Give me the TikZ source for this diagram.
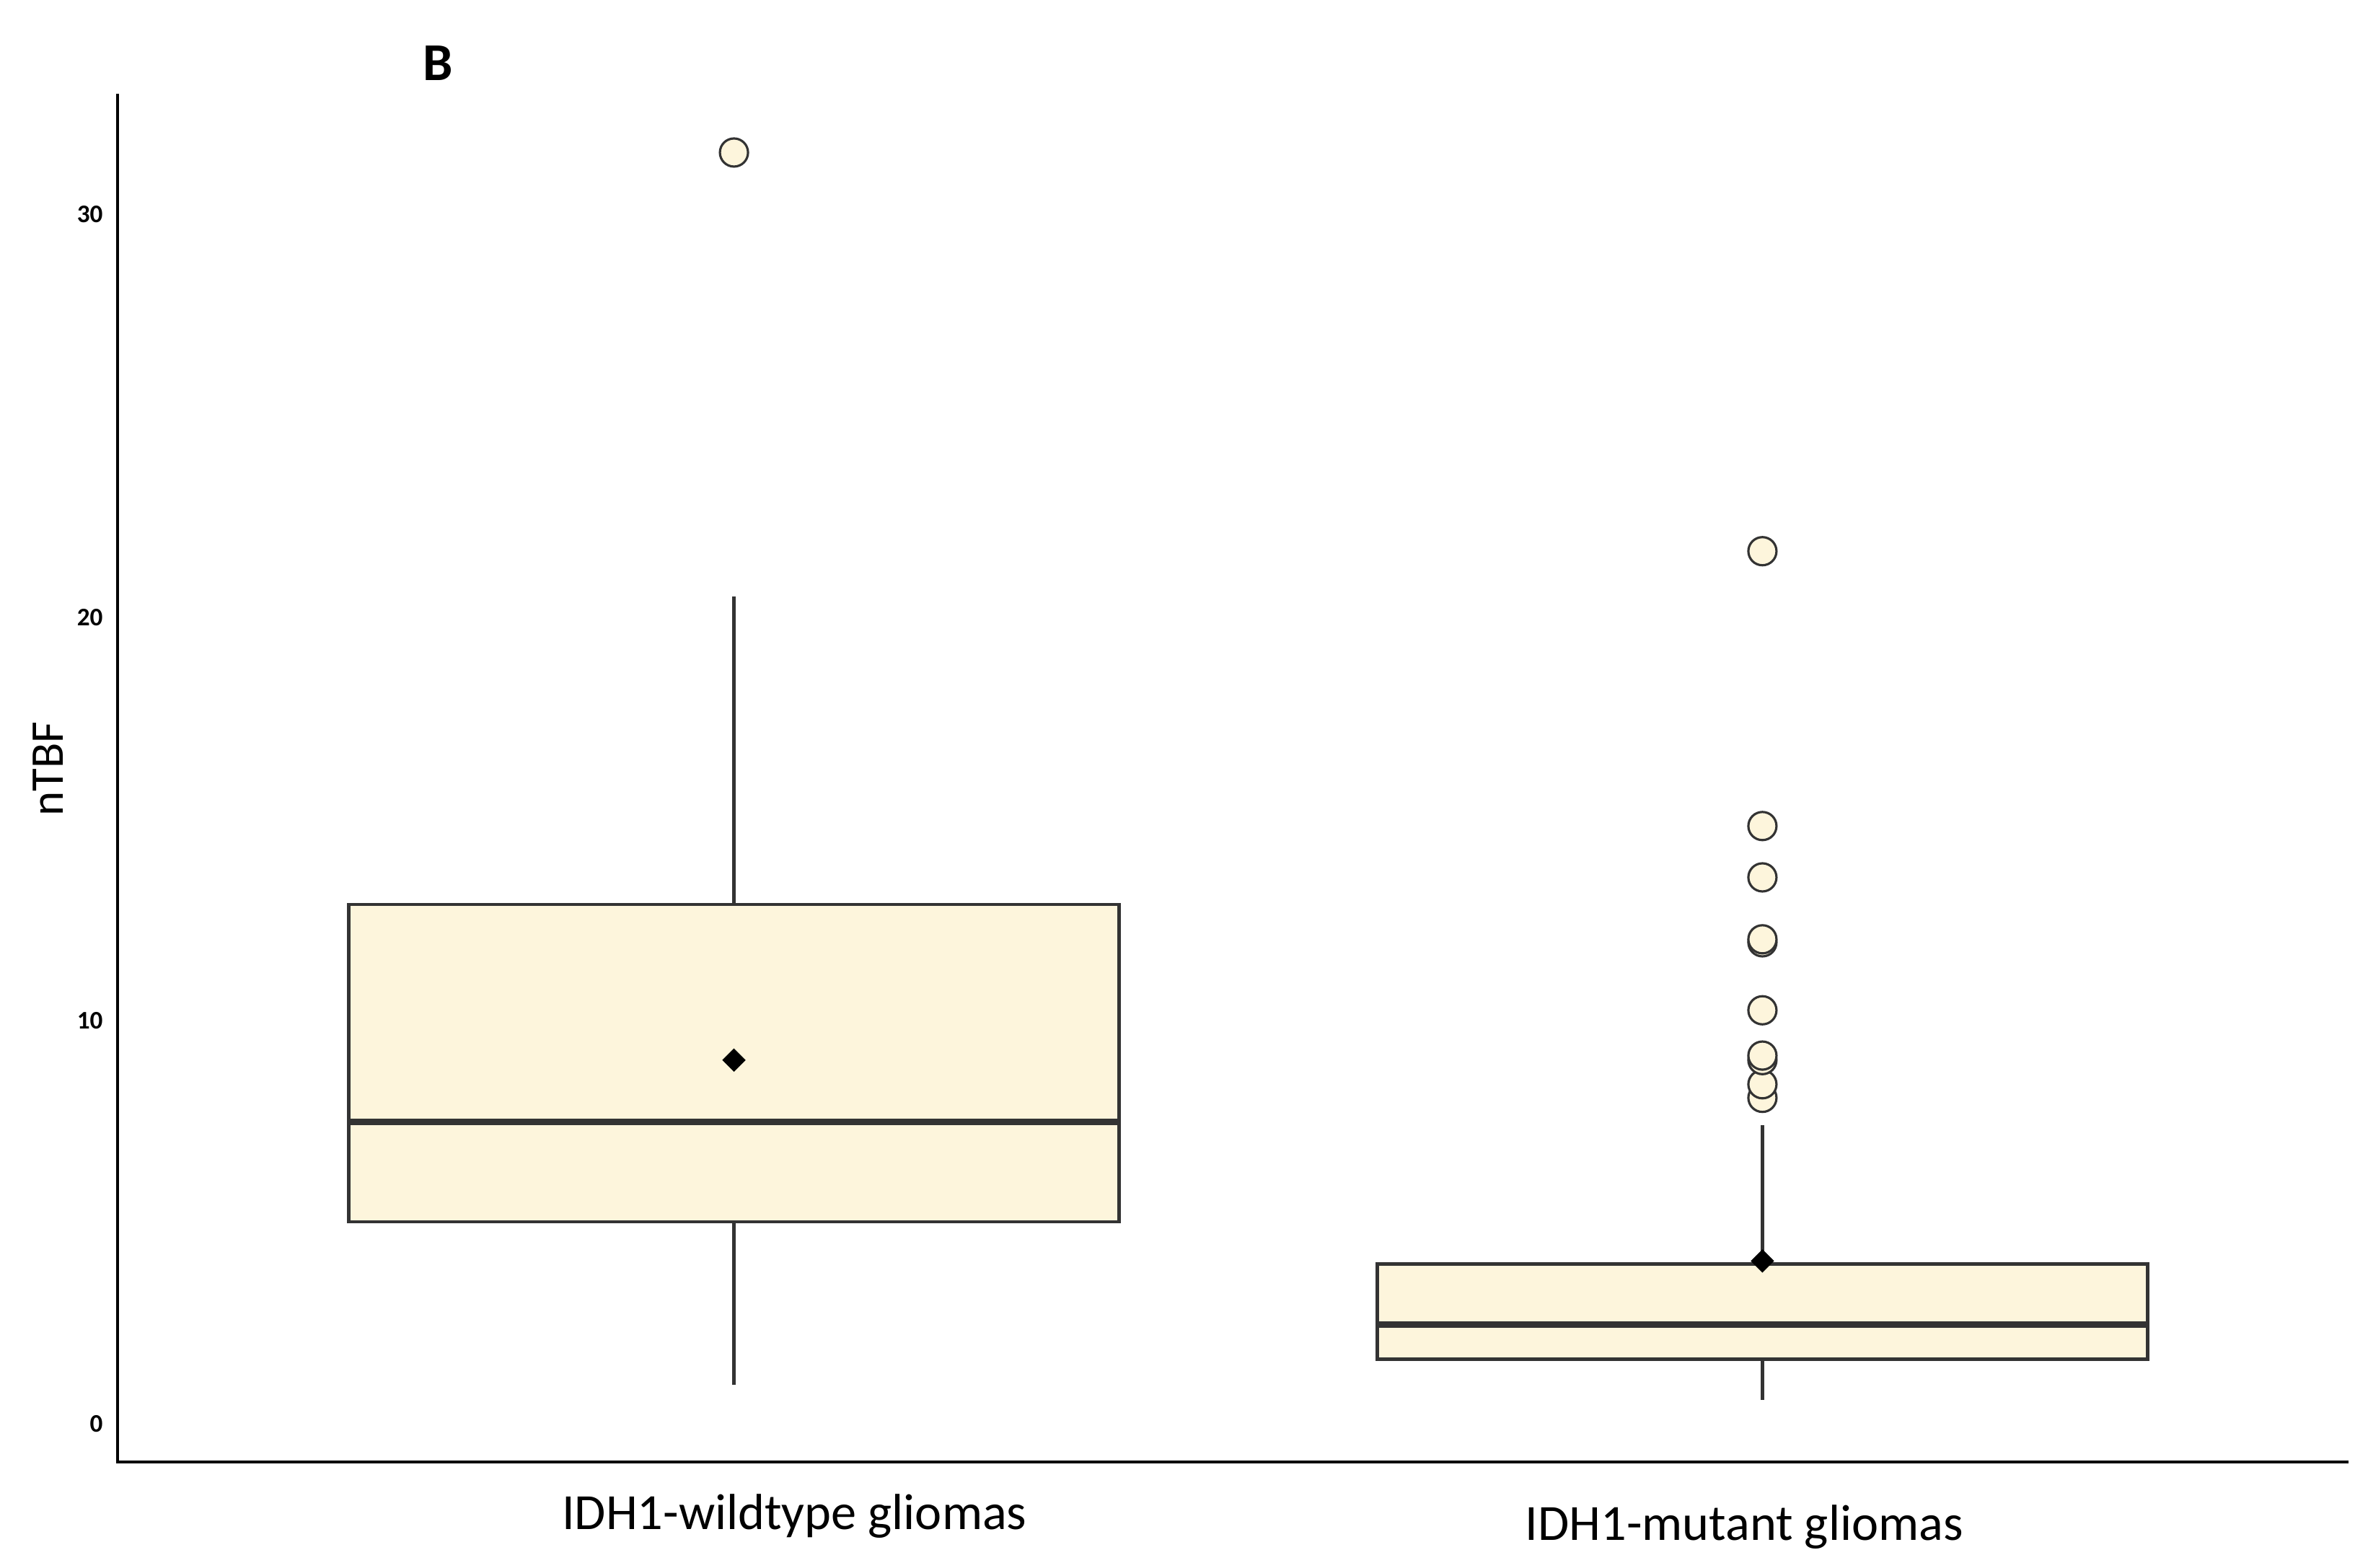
\documentclass[tikz,border=0pt]{standalone}
\usepackage{fontspec}
\setmainfont{Carlito}
\definecolor{boxfill}{HTML}{FDF5DC}
\definecolor{ln}{HTML}{333333}
\begin{document}
\begin{tikzpicture}[x=0.020937cm,y=-0.020937cm,
  bx/.style={draw=ln,fill=boxfill,line width=1.3pt},
  wh/.style={draw=ln,line width=1.3pt},
  med/.style={draw=ln,line width=2.6pt},
  outl/.style={circle,draw=ln,fill=boxfill,line width=0.9pt,minimum size=0.39cm,inner sep=0pt},
  mean/.style={diamond,fill=black,minimum size=0.33cm,inner sep=0pt},
  tick/.style={font=\fontsize{10}{12}\selectfont\bfseries,anchor=east}]
\usetikzlibrary{shapes.geometric}
\useasboundingbox (0,0) rectangle (1568,1038);
% axes
\coordinate (o) at (78,968);
\coordinate (yt) at (78,62);
\coordinate (xr) at (1555,968);
\draw[black,line width=1.2pt] (yt) -- (o) -- (xr);
\node[tick] (t30) at (74,142) {30};
\node[tick] (t20) at (74,409) {20};
\node[tick] (t10) at (74,676) {10};
\node[tick] (t0) at (74,943) {0};
\node[font=\fontsize{18.5}{20}\selectfont,rotate=90] (yl) at (32,509) {nTBF};
\node[font=\fontsize{21}{24}\selectfont\bfseries] (B) at (290,42) {B};
% group 1
\coordinate (w1a) at (486,395); \coordinate (w1b) at (486,599);
\coordinate (w1c) at (486,809); \coordinate (w1d) at (486,917);
\draw[wh] (w1a) -- (w1b) (w1c) -- (w1d);
\draw[bx] (231,599) rectangle (741,809);
\draw[med] (231,743) -- (741,743);
\node[mean] (m1) at (486,702) {};
\node[outl] (o1) at (486,101) {};
% group 2
\coordinate (w2a) at (1167,745); \coordinate (w2b) at (1167,837);
\coordinate (w2c) at (1167,900); \coordinate (w2d) at (1167,927);
\draw[wh] (w2a) -- (w2b) (w2c) -- (w2d);
\draw[bx] (912,837) rectangle (1422,900);
\draw[med] (912,877) -- (1422,877);
\node[mean] (m2) at (1167,835) {};
\foreach \yy [count=\i] in {727,718,702,699,669,624,622,581,547,365}
  \node[outl] (p\i) at (1167,\yy) {};
% labels
\node[font=\fontsize{20}{24}\selectfont] (l1) at (526,1004) {IDH1-wildtype gliomas};
\node[font=\fontsize{20}{24}\selectfont] (l2) at (1155,1011) {IDH1-mutant gliomas};
\end{tikzpicture}
\end{document}
